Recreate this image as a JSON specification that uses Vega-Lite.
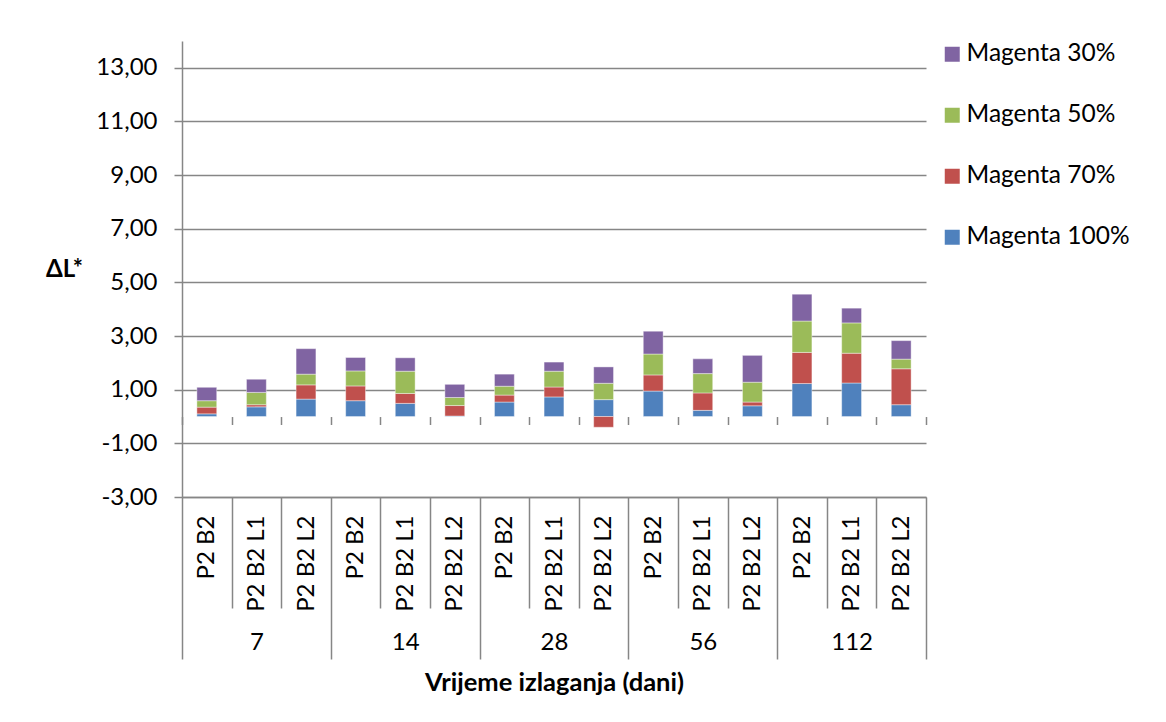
{
  "$schema": "https://vega.github.io/schema/vega-lite/v6.json",
  "width": 744,
  "height": 456,
  "autosize": "none",
  "padding": {"left": 182, "top": 41, "right": 240, "bottom": 225},
  "background": "white",
  "config": {
    "font": "Lato",
    "view": {"stroke": null},
    "axis": {"labelFont": "Lato", "titleFont": "Lato", "labelColor": "#000000", "titleColor": "#000000", "labelFontSize": 24, "titleFontSize": 24},
    "legend": {"labelFont": "Lato", "labelColor": "#000000"}
  },
  "datasets": {
    "bars": [
      {"key": "7|P2 B2", "series": "Magenta 100%", "ord": 1, "v": 0.10},
      {"key": "7|P2 B2", "series": "Magenta 70%", "ord": 2, "v": 0.25},
      {"key": "7|P2 B2", "series": "Magenta 50%", "ord": 3, "v": 0.24},
      {"key": "7|P2 B2", "series": "Magenta 30%", "ord": 4, "v": 0.50},
      {"key": "7|P2 B2 L1", "series": "Magenta 100%", "ord": 1, "v": 0.36},
      {"key": "7|P2 B2 L1", "series": "Magenta 70%", "ord": 2, "v": 0.08},
      {"key": "7|P2 B2 L1", "series": "Magenta 50%", "ord": 3, "v": 0.46},
      {"key": "7|P2 B2 L1", "series": "Magenta 30%", "ord": 4, "v": 0.49},
      {"key": "7|P2 B2 L2", "series": "Magenta 100%", "ord": 1, "v": 0.65},
      {"key": "7|P2 B2 L2", "series": "Magenta 70%", "ord": 2, "v": 0.53},
      {"key": "7|P2 B2 L2", "series": "Magenta 50%", "ord": 3, "v": 0.40},
      {"key": "7|P2 B2 L2", "series": "Magenta 30%", "ord": 4, "v": 0.95},
      {"key": "14|P2 B2", "series": "Magenta 100%", "ord": 1, "v": 0.59},
      {"key": "14|P2 B2", "series": "Magenta 70%", "ord": 2, "v": 0.55},
      {"key": "14|P2 B2", "series": "Magenta 50%", "ord": 3, "v": 0.56},
      {"key": "14|P2 B2", "series": "Magenta 30%", "ord": 4, "v": 0.50},
      {"key": "14|P2 B2 L1", "series": "Magenta 100%", "ord": 1, "v": 0.49},
      {"key": "14|P2 B2 L1", "series": "Magenta 70%", "ord": 2, "v": 0.37},
      {"key": "14|P2 B2 L1", "series": "Magenta 50%", "ord": 3, "v": 0.83},
      {"key": "14|P2 B2 L1", "series": "Magenta 30%", "ord": 4, "v": 0.50},
      {"key": "14|P2 B2 L2", "series": "Magenta 100%", "ord": 1, "v": 0.02},
      {"key": "14|P2 B2 L2", "series": "Magenta 70%", "ord": 2, "v": 0.39},
      {"key": "14|P2 B2 L2", "series": "Magenta 50%", "ord": 3, "v": 0.30},
      {"key": "14|P2 B2 L2", "series": "Magenta 30%", "ord": 4, "v": 0.49},
      {"key": "28|P2 B2", "series": "Magenta 100%", "ord": 1, "v": 0.54},
      {"key": "28|P2 B2", "series": "Magenta 70%", "ord": 2, "v": 0.26},
      {"key": "28|P2 B2", "series": "Magenta 50%", "ord": 3, "v": 0.33},
      {"key": "28|P2 B2", "series": "Magenta 30%", "ord": 4, "v": 0.45},
      {"key": "28|P2 B2 L1", "series": "Magenta 100%", "ord": 1, "v": 0.73},
      {"key": "28|P2 B2 L1", "series": "Magenta 70%", "ord": 2, "v": 0.37},
      {"key": "28|P2 B2 L1", "series": "Magenta 50%", "ord": 3, "v": 0.59},
      {"key": "28|P2 B2 L1", "series": "Magenta 30%", "ord": 4, "v": 0.34},
      {"key": "28|P2 B2 L2", "series": "Magenta 100%", "ord": 1, "v": 0.63},
      {"key": "28|P2 B2 L2", "series": "Magenta 70%", "ord": 2, "v": -0.40},
      {"key": "28|P2 B2 L2", "series": "Magenta 50%", "ord": 3, "v": 0.61},
      {"key": "28|P2 B2 L2", "series": "Magenta 30%", "ord": 4, "v": 0.61},
      {"key": "56|P2 B2", "series": "Magenta 100%", "ord": 1, "v": 0.95},
      {"key": "56|P2 B2", "series": "Magenta 70%", "ord": 2, "v": 0.60},
      {"key": "56|P2 B2", "series": "Magenta 50%", "ord": 3, "v": 0.78},
      {"key": "56|P2 B2", "series": "Magenta 30%", "ord": 4, "v": 0.85},
      {"key": "56|P2 B2 L1", "series": "Magenta 100%", "ord": 1, "v": 0.23},
      {"key": "56|P2 B2 L1", "series": "Magenta 70%", "ord": 2, "v": 0.65},
      {"key": "56|P2 B2 L1", "series": "Magenta 50%", "ord": 3, "v": 0.72},
      {"key": "56|P2 B2 L1", "series": "Magenta 30%", "ord": 4, "v": 0.55},
      {"key": "56|P2 B2 L2", "series": "Magenta 100%", "ord": 1, "v": 0.40},
      {"key": "56|P2 B2 L2", "series": "Magenta 70%", "ord": 2, "v": 0.14},
      {"key": "56|P2 B2 L2", "series": "Magenta 50%", "ord": 3, "v": 0.74},
      {"key": "56|P2 B2 L2", "series": "Magenta 30%", "ord": 4, "v": 1.00},
      {"key": "112|P2 B2", "series": "Magenta 100%", "ord": 1, "v": 1.23},
      {"key": "112|P2 B2", "series": "Magenta 70%", "ord": 2, "v": 1.16},
      {"key": "112|P2 B2", "series": "Magenta 50%", "ord": 3, "v": 1.17},
      {"key": "112|P2 B2", "series": "Magenta 30%", "ord": 4, "v": 1.00},
      {"key": "112|P2 B2 L1", "series": "Magenta 100%", "ord": 1, "v": 1.25},
      {"key": "112|P2 B2 L1", "series": "Magenta 70%", "ord": 2, "v": 1.11},
      {"key": "112|P2 B2 L1", "series": "Magenta 50%", "ord": 3, "v": 1.13},
      {"key": "112|P2 B2 L1", "series": "Magenta 30%", "ord": 4, "v": 0.55},
      {"key": "112|P2 B2 L2", "series": "Magenta 100%", "ord": 1, "v": 0.44},
      {"key": "112|P2 B2 L2", "series": "Magenta 70%", "ord": 2, "v": 1.34},
      {"key": "112|P2 B2 L2", "series": "Magenta 50%", "ord": 3, "v": 0.36},
      {"key": "112|P2 B2 L2", "series": "Magenta 30%", "ord": 4, "v": 0.69}
    ],
    "groups": [
      {"key": "7|P2 B2 L1", "day": "7"},
      {"key": "14|P2 B2 L1", "day": "14"},
      {"key": "28|P2 B2 L1", "day": "28"},
      {"key": "56|P2 B2 L1", "day": "56"},
      {"key": "112|P2 B2 L1", "day": "112"}
    ]
  },
  "resolve": {"axis": {"x": "independent"}},
  "layer": [
    {
      "data": {"name": "bars"},
      "mark": {"type": "bar", "width": {"band": 0.4}, "stroke": "#ffffff", "strokeWidth": 0.8, "strokeOpacity": 0.5},
      "encoding": {
        "x": {
          "field": "key", "type": "nominal", "sort": null,
          "scale": {"domain": ["7|P2 B2", "7|P2 B2 L1", "7|P2 B2 L2", "14|P2 B2", "14|P2 B2 L1", "14|P2 B2 L2", "28|P2 B2", "28|P2 B2 L1", "28|P2 B2 L2", "56|P2 B2", "56|P2 B2 L1", "56|P2 B2 L2", "112|P2 B2", "112|P2 B2 L1", "112|P2 B2 L2"], "paddingInner": 0, "paddingOuter": 0},
          "axis": {
            "orient": "bottom",
            "title": "Vrijeme izlaganja (dani)",
            "titleFontWeight": "bold",
            "titleFontSize": 25.5,
            "titlePadding": 11,
            "labelExpr": "split(datum.value, '|')[1]",
            "labelAngle": 270,
            "labelAlign": "right",
            "labelBaseline": "middle",
            "tickBand": "extent",
            "tickColor": "#868686",
            "tickWidth": 1.5,
            "tickSize": {"condition": {"test": "datum.extra || indexof(datum.value + '', 'L2') >= 0", "value": 162}, "value": 111},
            "labelPadding": {"condition": {"test": "datum.extra || indexof(datum.value + '', 'L2') >= 0", "value": -144}, "value": -93},
            "domainColor": "#868686",
            "domainWidth": 1.5,
            "grid": false
          }
        },
        "y": {
          "field": "v", "type": "quantitative", "stack": "zero",
          "scale": {"domain": [-3, 14], "nice": false, "zero": false},
          "axis": {
            "values": [-3, -1, 1, 3, 5, 7, 9, 11, 13],
            "labelExpr": "(datum.value < 0 ? '-' : '') + replace(format(abs(datum.value), '.2f'), '.', ',')",
            "grid": true, "gridColor": "#868686", "gridWidth": 1.5,
            "domainColor": "#868686", "domainWidth": 1.5,
            "tickColor": "#868686", "tickSize": 8, "tickWidth": 1.5,
            "labelPadding": 17,
            "title": "ΔL*", "titleAngle": 0, "titleFontWeight": "bold",
            "titleX": -118, "titleY": 228, "titleAlign": "center", "titleBaseline": "middle"
          }
        },
        "color": {
          "field": "series", "type": "nominal",
          "scale": {"domain": ["Magenta 30%", "Magenta 50%", "Magenta 70%", "Magenta 100%"], "range": ["#8064A2", "#9BBB59", "#C0504D", "#4F81BD"]},
          "legend": {
            "orient": "none", "legendX": 758, "legendY": 1, "padding": 0,
            "title": null, "symbolType": "square", "symbolSize": 225, "symbolStrokeWidth": 0,
            "labelFontSize": 24.5, "labelOffset": 2, "labelLimit": 0, "rowPadding": 36
          }
        },
        "order": {"field": "ord", "type": "quantitative"}
      }
    },
    {
      "mark": {"type": "rule", "color": "#868686", "strokeWidth": 1.5},
      "encoding": {"y": {"datum": 0}}
    },
    {
      "data": {"name": "groups"},
      "mark": {"type": "point", "opacity": 0, "size": 0},
      "encoding": {
        "x": {
          "field": "key", "type": "nominal", "sort": null,
          "axis": {
            "orient": "bottom",
            "offset": -80.47,
            "title": null,
            "domain": false,
            "grid": false,
            "tickBand": "extent",
            "tickColor": "#868686",
            "tickWidth": 1.5,
            "tickSize": 8,
            "labelExpr": "indexof(datum.value + '', 'L1') >= 0 ? split(datum.value, '|')[0] : ''",
            "labelAngle": 0,
            "labelAlign": "center",
            "labelBaseline": "middle",
            "labelPadding": 218
          }
        },
        "y": {"datum": 0}
      }
    }
  ]
}
